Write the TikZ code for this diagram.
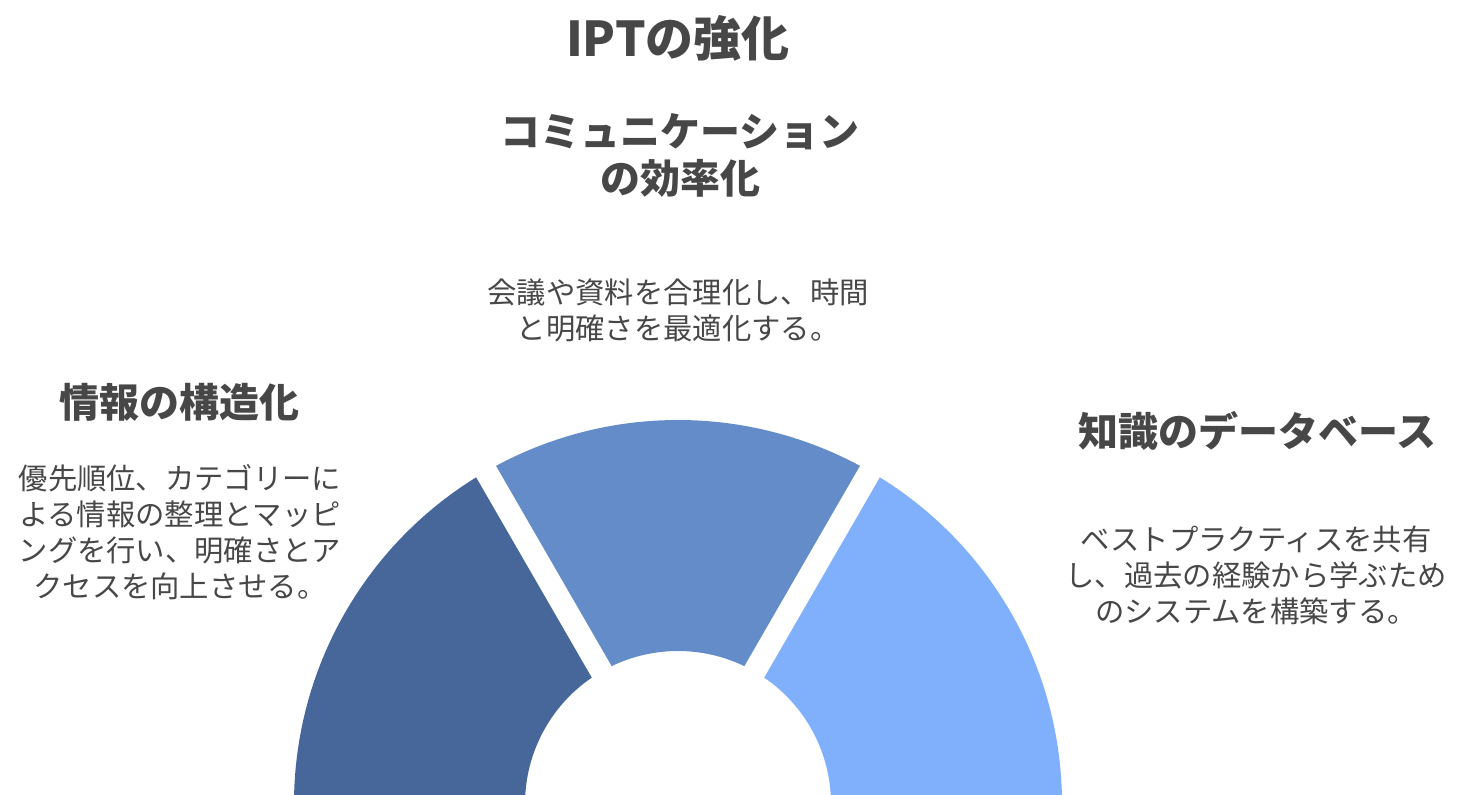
\documentclass[tikz,border=0pt]{standalone}
\usepackage{fontspec}
\setmainfont{Noto Sans CJK JP}
\definecolor{segleft}{HTML}{476699}
\definecolor{segmid}{HTML}{638CC8}
\definecolor{segright}{HTML}{80AFFB}
\definecolor{textgray}{HTML}{474747}
\begin{document}
\begin{tikzpicture}[x=0.75pt,y=0.75pt,
    heading/.style={text=textgray,align=center,font=\fontsize{30}{35}\selectfont\bfseries},
    bodytext/.style={text=textgray,align=center,font=\fontsize{22}{27}\selectfont}]
    \clip (0,0) rectangle (1472,795);
    % gauge segments
    \begin{scope}[shift={(678,-9)}]
        \fill[segleft] (180:384) arc[start angle=180, end angle=121.716, radius=288pt]
            -- (124.311:153) arc[start angle=124.311, end angle=180, radius=114.75pt] -- cycle;
        \fill[segmid] (118.284:384) arc[start angle=118.284, end angle=61.716, radius=288pt]
            -- (64.311:153) arc[start angle=64.311, end angle=115.689, radius=114.75pt] -- cycle;
        \fill[segright] (58.284:384) arc[start angle=58.284, end angle=0, radius=288pt]
            -- (0:153) arc[start angle=0, end angle=55.689, radius=114.75pt] -- cycle;
    \end{scope}
    % texts
    \node (title) at (678,757) [text=textgray,font=\fontsize{36}{40}\selectfont\bfseries] {IPTの強化};
    \node (hcomm) at (680,639.5) [heading] {コミュニケーション\\の効率化};
    \node (bcomm) at (678,484.5) [bodytext] {会議や資料を合理化し、時間\\と明確さを最適化する。};
    \node (hstruct) at (180,393) [heading] {情報の構造化};
    \node (bstruct) at (180,262.5) [bodytext] {優先順位、カテゴリーに\\よる情報の整理とマッピ\\ングを行い、明確さとア\\クセスを向上させる。};
    \node (hknow) at (1257,364) [heading] {知識のデータベース};
    \node (bknow) at (1256,220) [bodytext] {ベストプラクティスを共有\\し、過去の経験から学ぶため\\のシステムを構築する。};
\end{tikzpicture}
\end{document}
